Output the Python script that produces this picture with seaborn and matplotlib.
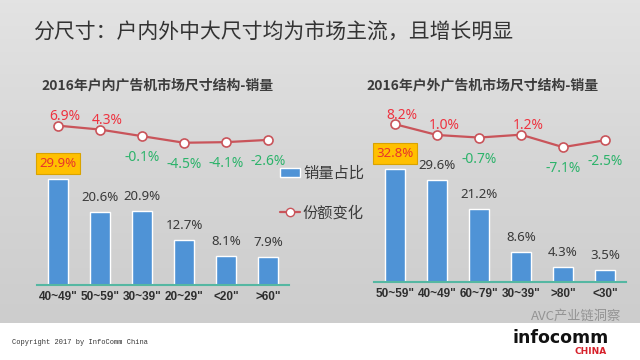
import numpy as np
import matplotlib
matplotlib.use('Agg')
import matplotlib.pyplot as plt
import seaborn as sns
from matplotlib.patches import Patch
from matplotlib.lines import Line2D

sns.set_theme(style='white')
plt.rcParams['font.family'] = ['Noto Sans CJK SC', 'DejaVu Sans']

# 户内广告机
indoor_sizes = ['40~49"', '50~59"', '30~39"', '20~29"', '<20"', '>60"']
indoor_share = [29.9, 20.6, 20.9, 12.7, 8.1, 7.9]
indoor_change = [6.9, 4.3, -0.1, -4.5, -4.1, -2.6]

# 户外广告机
outdoor_sizes = ['50~59"', '40~49"', '60~79"', '30~39"', '>80"', '<30"']
outdoor_share = [32.8, 29.6, 21.2, 8.6, 4.3, 3.5]
outdoor_change = [8.2, 1.0, -0.7, 1.2, -7.1, -2.5]

BAR = '#4f93d6'
LINE = '#c9545a'
RED = '#ee3340'
GREEN = '#2db36b'
TEXT = '#3a3a3a'
NUM = ['Noto Sans', 'Noto Sans CJK SC']

W, H = 640, 360
fig = plt.figure(figsize=(6.4, 3.6), dpi=100, facecolor='white')

# 灰色幻灯片背景
bg = fig.add_axes([0, 37 / H, 1, 323 / H], zorder=-5)
grad = np.linspace(0, 1, 100).reshape(-1, 1)
bg.imshow(grad, aspect='auto', cmap=sns.blend_palette(['#e3e3e3', '#d6d6d6', '#cdcdcd'], as_cmap=True),
          extent=[0, 1, 0, 1])
bg.set_axis_off()


def draw_panel(left, bottom, top, bar_top, chg_zero_px, sizes, share, change, title, title_x):
    height = bottom - top
    ax = fig.add_axes([left / W, 1 - bottom / H, 252 / W, height / H])
    ax.patch.set_alpha(0)
    sns.barplot(x=sizes, y=share, color=BAR, width=0.48, saturation=1, ax=ax)
    ax.set_xlim(-0.5, 5.5)
    ax.set_ylim(0, bar_top)
    for s in ['top', 'right', 'left']:
        ax.spines[s].set_visible(False)
    ax.spines['bottom'].set_color('#55b7a2')
    ax.spines['bottom'].set_linewidth(1.5)
    ax.set_yticks([])
    ax.set_xlabel('')
    ax.set_ylabel('')
    ax.tick_params(axis='x', length=0, pad=4, labelsize=8.5, labelcolor='#2e2e2e')
    for lbl in ax.get_xticklabels():
        lbl.set_fontweight('bold')
        lbl.set_family(['Liberation Sans', 'DejaVu Sans'])

    for i, v in enumerate(share):
        if i == 0:
            ax.annotate(f'{v:.1f}%', (i, v), xytext=(0, 11), textcoords='offset points',
                        ha='center', va='center', fontsize=9.5, color='#e8352b', family=NUM,
                        bbox=dict(boxstyle='square,pad=0.28', fc='#ffc000', ec='#d9a300', lw=0.8))
        else:
            ax.annotate(f'{v:.1f}%', (i, v), xytext=(0, 10.5), textcoords='offset points',
                        ha='center', va='center', fontsize=9.5, color=TEXT, family=NUM)

    # 份额变化 (次坐标)
    ax2 = ax.twinx()
    px = 1.5
    hi = (chg_zero_px - top) / px
    ax2.set_ylim(hi - height / px, hi)
    sns.lineplot(x=np.arange(len(change)), y=change, ax=ax2, color=LINE, lw=1.6, marker='o',
                 markersize=6.5, markerfacecolor='white', markeredgecolor=LINE, markeredgewidth=1.2)
    ax2.set_xlim(-0.5, 5.5)
    ax2.set_axis_off()
    for i, v in enumerate(change):
        if v >= 0:
            ax2.annotate(f'{v:.1f}%', (i, v), xytext=(5, 6.5), textcoords='offset points',
                         ha='center', va='center', fontsize=10, color=RED, family=NUM)
        else:
            ax2.annotate(f'{v:.1f}%', (i, v), xytext=(0, -15.5), textcoords='offset points',
                         ha='center', va='center', fontsize=10, color=GREEN, family=NUM)

    fig.text(title_x / W, 1 - 85 / H, title, ha='center', va='center', fontsize=10,
             weight='bold', color='#3c3c3c')
    return ax, ax2


draw_panel(37, 285, 110, 49.3, 136, indoor_sizes, indoor_share, indoor_change,
           '2016年户内广告机市场尺寸结构-销量', 158)
draw_panel(374, 282, 110, 49.9, 136.5, outdoor_sizes, outdoor_share, outdoor_change,
           '2016年户外广告机市场尺寸结构-销量', 483)

fig.text(33 / W, 1 - 33 / H, '分尺寸：户内外中大尺寸均为市场主流，且增长明显', ha='left', va='center',
         fontsize=15, color='#333333')

handles = [Patch(facecolor=BAR), Line2D([], [], color=LINE, lw=1.6, marker='o', markersize=6,
                                         markerfacecolor='white', markeredgecolor=LINE)]
leg = fig.legend(handles, ['销量占比', '份额变化'], loc='upper left', bbox_to_anchor=(280 / W, 1 - 165 / H),
                 frameon=False, fontsize=11, handlelength=1.3, handleheight=0.45, handletextpad=0.2,
                 labelspacing=1.45, borderpad=0, borderaxespad=0)
for t in leg.get_texts():
    t.set_color(TEXT)

# 页脚
fig.text(12 / W, 1 - 342 / H, 'Copyright 2017 by InfoComm China', fontsize=5, family='Liberation Mono',
         color='#333333', va='center')
fig.text(576 / W, 1 - 316 / H, 'AVC产业链洞察', fontsize=9.5, color='#8a8a8a', alpha=0.85,
         ha='center', va='center')
fig.text(561 / W, 1 - 338 / H, 'infocomm', fontsize=12.5, weight='heavy', family='DejaVu Sans',
         color='#111111', ha='center', va='center')
fig.text(607 / W, 1 - 352 / H, 'CHINA', fontsize=6.5, weight='bold', family='DejaVu Sans',
         color='#d6202a', ha='right', va='center')

fig.savefig('out.png', dpi=100, facecolor=fig.get_facecolor())
